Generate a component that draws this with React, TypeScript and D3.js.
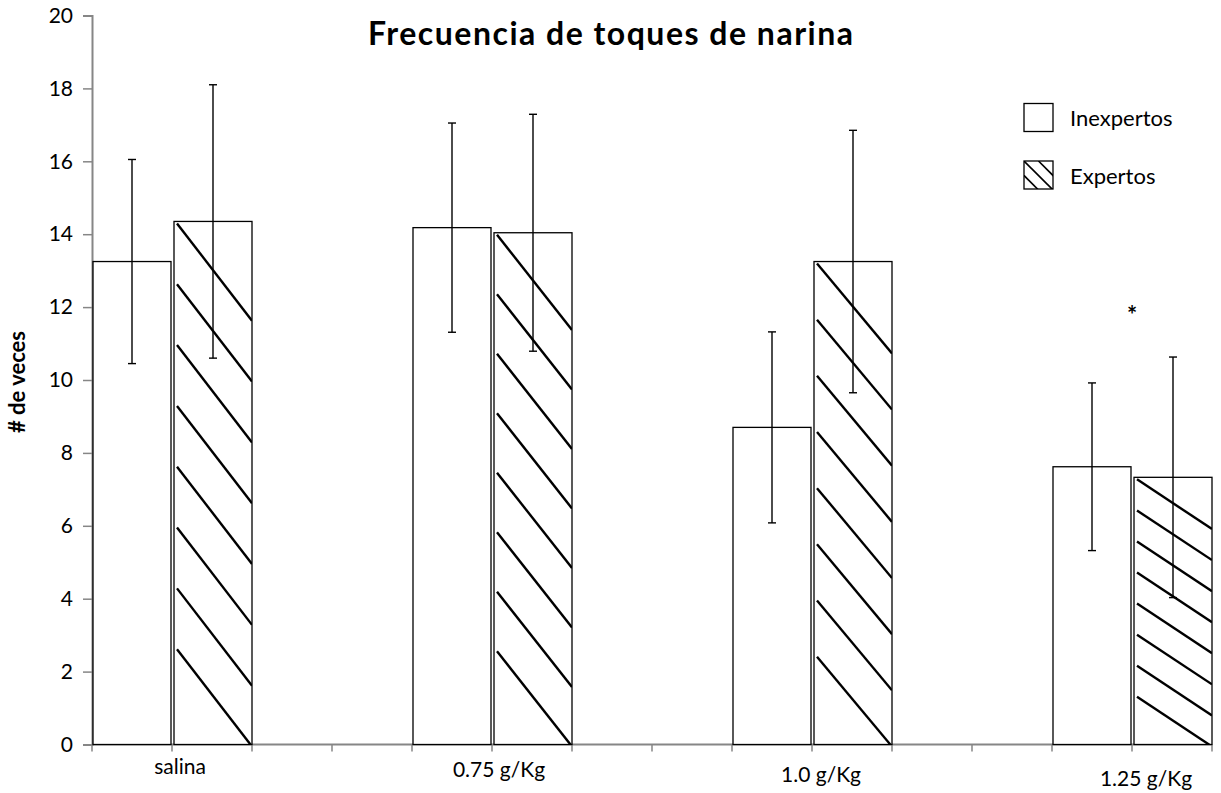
import React, { useEffect, useRef } from "react";
import * as d3 from "d3";

// values
const categories = ["salina", "0.75 g/Kg", "1.0 g/Kg", "1.25 g/Kg"];
const seriesNames = ["Inexpertos", "Expertos"];
const inexpertos = [13.25, 14.18, 8.7, 7.62];
const inexpertosErr = [2.8, 2.87, 2.62, 2.3];
const expertos = [14.35, 14.04, 13.25, 7.33];
const expertosErr = [3.75, 3.25, 3.6, 3.3];
const significance = ["", "", "", "*"];
const yTicks = [0, 2, 4, 6, 8, 10, 12, 14, 16, 18, 20];

const FONT = "Lato, 'Open Sans', sans-serif";

export default function App() {
  const ref = useRef<SVGSVGElement>(null);

  useEffect(() => {
    const width = 1221;
    const height = 793;
    const left = 92;
    const right = 1212;
    const top = 15.5;
    const bottom = 744.5;

    const svg = d3.select(ref.current).attr("width", width).attr("height", height);
    svg.selectAll("*").remove();

    // each group: 2 bars + 2 empty slots (last group has no trailing gap)
    const nSlots = categories.length * 4 - 2;
    const slot = d3.scaleBand<number>().domain(d3.range(nSlots)).range([left, right]).padding(0);
    const bw = slot.bandwidth();
    const y = d3.scaleLinear().domain([0, 20]).range([bottom, top]);

    const g = svg.append("g");

    // y axis
    const yAxis = d3.axisLeft(y).tickValues(yTicks).tickSize(9).tickPadding(10).tickFormat(d3.format("d"));
    const ya = g.append("g").attr("transform", `translate(${left},0)`).call(yAxis);
    ya.select(".domain").attr("stroke", "#868686").attr("stroke-width", 2);
    ya.selectAll(".tick line").attr("stroke", "#868686").attr("stroke-width", 1.5);
    ya.selectAll(".tick text").attr("fill", "#000").style("font-family", FONT).style("font-size", "21px");

    // x axis with a tick at every slot boundary
    const bounds = d3.range(nSlots + 1).map(i => left + i * bw);
    g.append("line").attr("x1", left).attr("x2", right).attr("y1", bottom).attr("y2", bottom)
      .attr("stroke", "#868686").attr("stroke-width", 2);
    g.selectAll(".xtick").data(bounds).join("line").attr("class", "xtick")
      .attr("x1", d => d).attr("x2", d => d).attr("y1", bottom).attr("y2", bottom + 7)
      .attr("stroke", "#868686").attr("stroke-width", 1.5);

    const labelDx = [8, 7, 9, 14];
    const labelDy = [29, 32, 37, 41];
    g.selectAll(".xlab").data(categories).join("text").attr("class", "xlab")
      .attr("x", (d, i) => slot(i * 4 + 1)! + labelDx[i])
      .attr("y", (d, i) => bottom + labelDy[i])
      .attr("text-anchor", "middle")
      .style("font-family", FONT).style("font-size", "21px")
      .text(d => d);

    const rows = categories.map((c, i) => ({
      i, c,
      a: inexpertos[i], ae: inexpertosErr[i],
      b: expertos[i], be: expertosErr[i],
    }));

    // Inexpertos bars
    g.selectAll(".barA").data(rows).join("rect").attr("class", "barA")
      .attr("x", d => slot(d.i * 4)! + 1)
      .attr("y", d => y(d.a))
      .attr("width", bw - 2)
      .attr("height", d => y(0) - y(d.a))
      .attr("fill", "#fff").attr("stroke", "#000").attr("stroke-width", 1.3);

    // Expertos bars with stretched hatching
    const defs = svg.append("defs");
    rows.forEach(d => {
      const x0 = slot(d.i * 4 + 1)! + 2;
      const x1 = x0 + bw - 2;
      const y0 = y(d.b);
      const h = y(0) - y0;
      const s = h / 8.6;
      const drop = 1.6 * s;
      defs.append("clipPath").attr("id", `clip${d.i}`)
        .append("rect").attr("x", x0).attr("y", y0).attr("width", x1 - x0).attr("height", h);
      g.append("rect").attr("x", x0).attr("y", y0).attr("width", x1 - x0).attr("height", h)
        .attr("fill", "#fff");
      g.append("g").attr("clip-path", `url(#clip${d.i})`)
        .selectAll("line").data(d3.range(8)).join("line")
        .attr("x1", x0 + 3).attr("x2", x1)
        .attr("y1", k => y0 + 2 + k * s)
        .attr("y2", k => y0 + 2 + k * s + drop)
        .attr("stroke", "#000").attr("stroke-width", 2.4);
      g.append("rect").attr("x", x0).attr("y", y0).attr("width", x1 - x0).attr("height", h)
        .attr("fill", "none").attr("stroke", "#000").attr("stroke-width", 1.3);
    });

    // error bars
    const errs = rows.flatMap(d => [
      { cx: slot(d.i * 4)! + bw / 2, v: d.a, e: d.ae },
      { cx: slot(d.i * 4 + 1)! + bw / 2 + 1, v: d.b, e: d.be },
    ]);
    const eg = g.selectAll(".err").data(errs).join("g").attr("class", "err")
      .attr("stroke", "#000").attr("stroke-width", 1.4);
    eg.append("line").attr("x1", d => d.cx).attr("x2", d => d.cx)
      .attr("y1", d => y(d.v + d.e)).attr("y2", d => y(d.v - d.e));
    eg.append("line").attr("x1", d => d.cx - 4).attr("x2", d => d.cx + 4)
      .attr("y1", d => y(d.v + d.e)).attr("y2", d => y(d.v + d.e));
    eg.append("line").attr("x1", d => d.cx - 4).attr("x2", d => d.cx + 4)
      .attr("y1", d => y(d.v - d.e)).attr("y2", d => y(d.v - d.e));

    // significance mark
    g.selectAll(".sig").data(rows.filter(d => significance[d.i])).join("text").attr("class", "sig")
      .attr("x", d => slot(d.i * 4 + 1)!)
      .attr("y", d => y(Math.max(d.a + d.ae, d.b + d.be) + 0.9))
      .attr("text-anchor", "middle")
      .style("font-family", FONT).style("font-size", "24px").style("font-weight", "bold")
      .text(d => significance[d.i]);

    // title
    svg.append("text")
      .attr("x", 610.5).attr("y", 45)
      .attr("text-anchor", "middle")
      .attr("textLength", 485).attr("lengthAdjust", "spacing")
      .style("font-family", FONT).style("font-size", "32px").style("font-weight", "bold")
      .text("Frecuencia de toques de narina");

    // y label
    svg.append("text")
      .attr("transform", "translate(25,382) rotate(-90)")
      .attr("text-anchor", "middle")
      .style("font-family", FONT).style("font-size", "22px").style("font-weight", "bold")
      .text("# de veces");

    // legend
    const lx = 1024;
    const ly = [103.5, 161];
    const box = 29;
    const leg = svg.append("g");
    leg.append("rect").attr("x", lx).attr("y", ly[0]).attr("width", box).attr("height", box - 1)
      .attr("fill", "#fff").attr("stroke", "#000").attr("stroke-width", 1.3);
    defs.append("clipPath").attr("id", "legclip")
      .append("rect").attr("x", lx).attr("y", ly[1]).attr("width", box).attr("height", box - 1);
    leg.append("g").attr("clip-path", "url(#legclip)")
      .selectAll("line").data([-0.5, 0, 0.5]).join("line")
      .attr("x1", o => lx + o * box).attr("y1", ly[1])
      .attr("x2", o => lx + box + o * box).attr("y2", ly[1] + box)
      .attr("stroke", "#000").attr("stroke-width", 1.6);
    leg.append("rect").attr("x", lx).attr("y", ly[1]).attr("width", box).attr("height", box - 1)
      .attr("fill", "none").attr("stroke", "#000").attr("stroke-width", 1.3);
    leg.selectAll("text").data(seriesNames).join("text")
      .attr("x", lx + 46).attr("y", (d, i) => ly[i] + box / 2 + 8)
      .style("font-family", FONT).style("font-size", "22px")
      .text(d => d);
  }, []);

  return (
    <svg ref={ref} style={{ position: "absolute", left: 0, top: 0, background: "#fff" }} />
  );
}
